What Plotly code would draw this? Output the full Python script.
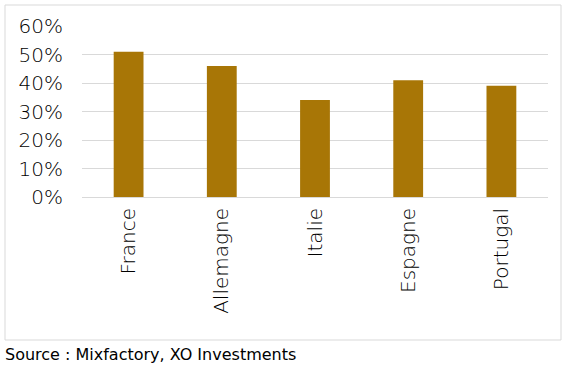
import plotly.graph_objects as go

categories = ["France", "Allemagne", "Italie", "Espagne", "Portugal"]
values = [0.51, 0.46, 0.34, 0.41, 0.39]
y_ticks = [0, 0.1, 0.2, 0.3, 0.4, 0.5, 0.6]

W, H = 567, 365
L, R, T, B = 82, 19, 26, 168
pw, ph = W - L - R, H - T - B

def px_x(p):
    return (p - L) / pw

def px_y(p):
    return (H - B - p) / ph

fig = go.Figure(go.Bar(x=categories, y=values, marker_color="#A87606", marker_line_width=0))

light = "DejaVu Sans ExtraLight, DejaVu Sans, sans-serif"
regular = "DejaVu Sans"
tick_font = dict(family=light, size=20, color="#000000", weight=300)
fig.update_layout(
    width=W, height=H,
    margin=dict(l=L, r=R, t=T, b=B),
    paper_bgcolor="white", plot_bgcolor="white",
    bargap=0.68,
    showlegend=False,
    font=dict(family=regular, size=16, color="#000000"),
)
fig.update_yaxes(
    range=[0, 0.6], tickvals=y_ticks, tickformat=".0%",
    showgrid=True, gridcolor="#D9D9D9", gridwidth=1,
    zeroline=True, zerolinecolor="#D9D9D9", zerolinewidth=1,
    showline=False, ticks="", ticklabelstandoff=18,
    tickfont=tick_font,
)
fig.update_xaxes(
    tickangle=-90, showline=False, ticks="", ticklabelstandoff=6,
    tickfont=tick_font,
)
fig.add_shape(type="rect", xref="paper", yref="paper",
              x0=px_x(5), x1=px_x(561), y0=px_y(340), y1=px_y(5),
              line=dict(color="#D9D9D9", width=1), fillcolor="rgba(0,0,0,0)", layer="below")
fig.add_annotation(text="Source : Mixfactory, XO Investments", xref="paper", yref="paper",
                   x=px_x(3), y=px_y(354), xanchor="left", yanchor="middle",
                   showarrow=False, font=dict(family=regular, size=16, color="#000000", weight=400))

fig.write_html("out.html", config={"displayModeBar": False},
               post_script="document.body.style.margin='0';document.body.style.overflow='hidden';")
